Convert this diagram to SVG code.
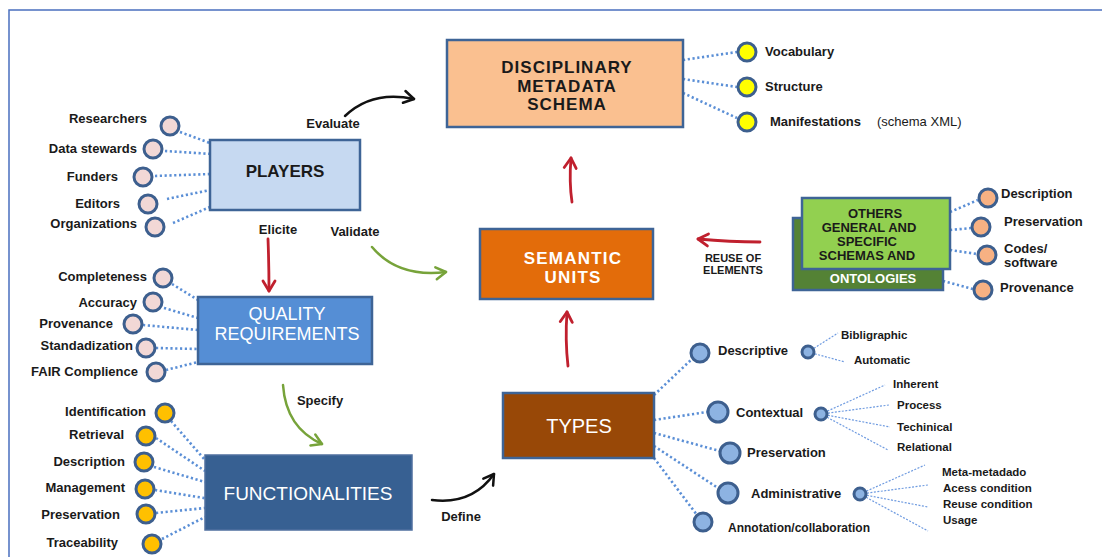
<svg xmlns="http://www.w3.org/2000/svg" width="1102" height="557" viewBox="0 0 1102 557">
<defs>
<marker id="hRed" markerUnits="userSpaceOnUse" markerWidth="16" markerHeight="16" refX="12" refY="8" orient="auto"><path d="M2,2 L12,8 L2,14" fill="none" stroke="#c0202e" stroke-width="2.8" stroke-linecap="round" stroke-linejoin="round"/></marker>
<marker id="hGreen" markerUnits="userSpaceOnUse" markerWidth="16" markerHeight="16" refX="12" refY="8" orient="auto"><path d="M2,2 L12,8 L2,14" fill="none" stroke="#77a33a" stroke-width="2.5" stroke-linecap="round" stroke-linejoin="round"/></marker>
<marker id="hBlack" markerUnits="userSpaceOnUse" markerWidth="16" markerHeight="16" refX="12" refY="8" orient="auto"><path d="M2,2 L12,8 L2,14" fill="none" stroke="#111" stroke-width="2.5" stroke-linecap="round" stroke-linejoin="round"/></marker>
</defs>
<style>
text{font-family:"Liberation Sans","DejaVu Sans",sans-serif;fill:#1a1a1a}
.lb{font-size:13px;font-weight:bold}
.sm{font-size:12px;font-weight:bold}
.title{font-size:17px;font-weight:bold;text-anchor:middle}
.wt{fill:#fff}
.box{stroke:#3e6496;stroke-width:2.5}
.dot{fill:none;stroke:#5b8fd6;stroke-width:2.6;stroke-dasharray:2.2 2.6}
.thin{fill:none;stroke:#6f9be0;stroke-width:1.2;stroke-dasharray:2 1.5}
.c{stroke:#3d5f8e;stroke-width:3}
.pink{fill:#f2d8d6}
.yel{fill:#ffff00}
.gold{fill:#ffc000}
.peach{fill:#f7b183}
.lblue{fill:#8db3e2}
.red{fill:none;stroke:#c0202e;stroke-width:2.8;stroke-linecap:round}
.green{fill:none;stroke:#77a33a;stroke-width:2.5;stroke-linecap:round}
.black{fill:none;stroke:#111;stroke-width:2.5;stroke-linecap:round}
.al{font-size:13px;font-weight:bold;text-anchor:middle}
</style>
<rect x="9" y="10" width="1100" height="560" fill="#fff" stroke="#4a6fbf" stroke-width="1.5"/>

<g id="connectors">
<path class="dot" d="M180,132 L210,143 M165,151 L212,154 M155,176 L210,174 M167,199 L210,190 M173,223 L210,207"/>
<path class="dot" d="M683,60 L737,52 M683,79 L737,87 M683,93 L737,118"/>
<path class="dot" d="M950,212 L978,200 M950,230 L972,228 M950,250 L977,254 M943,281 L973,289"/>
<path class="dot" d="M172,284 L198,300 M164,308 L198,318 M143,325 L198,330 M156,348 L198,349 M166,370 L198,362"/>
<path class="dot" d="M171,421 L205,460 M156,438 L205,471 M154,467 L205,482 M155,490 L210,499 M156,513 L205,508 M162,539 L205,517"/>
<path class="dot" d="M654,395 L692,359 M654,420 L707,412 M654,433 L720,451 M654,446 L718,488 M654,458 L697,515"/>
<path class="thin" d="M808,352 L838,333 M808,352 L845,362 M821,414 L885,385 M821,414 L889,405 M821,414 L890,427 M821,414 L888,450 M860,494 L925,465 M860,494 L928,485 M860,494 L928,507 M860,494 L928,531"/>
<path class="black" d="M345,116 Q372,90 414,99" marker-end="url(#hBlack)"/>
<path class="red" d="M268,239 Q269,265 269,291" marker-end="url(#hRed)"/>
<path class="green" d="M372,247 Q398,278 446,272" marker-end="url(#hGreen)"/>
<path class="red" d="M572,202 Q569,182 571,158" marker-end="url(#hRed)"/>
<path class="red" d="M760,242 Q730,242 698,239" marker-end="url(#hRed)"/>
<path class="red" d="M568,366 Q565,340 567,312" marker-end="url(#hRed)"/>
<path class="green" d="M283,385 Q286,428 322,444" marker-end="url(#hGreen)"/>
<path class="black" d="M432,500 Q472,505 494,474" marker-end="url(#hBlack)"/>
<text class="al" x="333" y="128">Evaluate</text>
<text class="al" x="278" y="234">Elicite</text>
<text class="al" x="355" y="236">Validate</text>
<text class="al" x="320" y="405">Specify</text>
<text class="al" x="461" y="521">Define</text>
<text class="al" x="733" y="262" style="font-size:11px">REUSE OF</text>
<text class="al" x="733" y="274" style="font-size:11px">ELEMENTS</text>
</g>

<g id="players">
<rect class="box" x="210" y="140" width="150" height="70" fill="#c6d9f1"/>
<text class="title" x="285" y="177">PLAYERS</text>
<circle class="c pink" cx="170" cy="126" r="9"/><circle class="c pink" cx="153" cy="149" r="9"/><circle class="c pink" cx="143" cy="177" r="9"/><circle class="c pink" cx="148" cy="204" r="9"/><circle class="c pink" cx="155" cy="227" r="9"/>
<text class="lb" text-anchor="end" x="147" y="123">Researchers</text>
<text class="lb" text-anchor="end" x="137" y="153">Data stewards</text>
<text class="lb" text-anchor="end" x="118" y="181">Funders</text>
<text class="lb" text-anchor="end" x="120" y="208">Editors</text>
<text class="lb" text-anchor="end" x="137" y="228">Organizations</text>
</g>

<g id="disciplinary">
<rect class="box" x="447" y="40" width="236" height="87" fill="#fac090"/>
<text class="title" x="567" y="73" style="letter-spacing:1px">DISCIPLINARY</text>
<text class="title" x="567" y="92" style="letter-spacing:1px">METADATA</text>
<text class="title" x="567" y="110" style="letter-spacing:1px">SCHEMA</text>
<circle class="c yel" cx="747" cy="52" r="9"/><circle class="c yel" cx="747" cy="87" r="9"/><circle class="c yel" cx="747" cy="122" r="9"/>
<text class="lb" x="765" y="56">Vocabulary</text>
<text class="lb" x="765" y="91">Structure</text>
<text class="lb" x="770" y="126">Manifestations</text>
<text x="877" y="126" style="font-size:13px">(schema XML)</text>
</g>

<g id="others">
<rect class="box" x="793" y="218" width="150" height="72" fill="#548235" stroke-width="2"/>
<rect class="box" x="802" y="198" width="148" height="71" fill="#92d050" stroke-width="2"/>
<text class="title" x="875" y="218" style="font-size:13px">OTHERS</text>
<text class="title" x="869" y="232" style="font-size:13px">GENERAL AND</text>
<text class="title" x="867" y="246" style="font-size:13px">SPECIFIC</text>
<text class="title" x="867" y="260" style="font-size:13px">SCHEMAS AND</text>
<text class="title wt" x="873" y="283" style="font-size:13px">ONTOLOGIES</text>
<circle class="c peach" cx="988" cy="198" r="9"/><circle class="c peach" cx="981" cy="227" r="9"/><circle class="c peach" cx="987" cy="255" r="9"/><circle class="c peach" cx="983" cy="290" r="9"/>
<text class="lb" x="1001" y="198">Description</text>
<text class="lb" x="1004" y="226">Preservation</text>
<text class="lb" x="1004" y="253">Codes/</text>
<text class="lb" x="1004" y="267">software</text>
<text class="lb" x="1000" y="292">Provenance</text>
</g>

<g id="semantic">
<rect class="box" x="480" y="229" width="173" height="70" fill="#e36c0a"/>
<text class="title wt" x="573" y="264" style="letter-spacing:1.2px">SEMANTIC</text>
<text class="title wt" x="573" y="283" style="letter-spacing:1.2px">UNITS</text>
</g>

<g id="quality">
<rect class="box" x="198" y="297" width="174" height="67" fill="#558ed5"/>
<text class="title wt" x="287" y="320" style="font-size:18px;font-weight:normal">QUALITY</text>
<text class="title wt" x="287" y="340" style="font-size:18px;font-weight:normal">REQUIREMENTS</text>
<circle class="c pink" cx="163" cy="278" r="9"/><circle class="c pink" cx="153" cy="302" r="9"/><circle class="c pink" cx="133" cy="324" r="9"/><circle class="c pink" cx="146" cy="348" r="9"/><circle class="c pink" cx="156" cy="372" r="9"/>
<text class="lb" text-anchor="end" x="147" y="281">Completeness</text>
<text class="lb" text-anchor="end" x="137" y="307">Accuracy</text>
<text class="lb" text-anchor="end" x="113" y="328">Provenance</text>
<text class="lb" text-anchor="end" x="133" y="350">Standadization</text>
<text class="lb" text-anchor="end" x="138" y="376">FAIR Complience</text>
</g>

<g id="functionalities">
<rect x="205" y="455" width="207" height="75" fill="#376092" stroke="#4f6f9f" stroke-width="1.5"/>
<text class="title wt" x="308" y="500" style="font-size:19px;font-weight:normal">FUNCTIONALITIES</text>
<circle class="c gold" cx="165" cy="413" r="9"/><circle class="c gold" cx="146" cy="436" r="9"/><circle class="c gold" cx="144" cy="462" r="9"/><circle class="c gold" cx="145" cy="489" r="9"/><circle class="c gold" cx="146" cy="514" r="9"/><circle class="c gold" cx="152" cy="544" r="9"/>
<text class="lb" text-anchor="end" x="146" y="416">Identification</text>
<text class="lb" text-anchor="end" x="124" y="439">Retrieval</text>
<text class="lb" text-anchor="end" x="125" y="466">Description</text>
<text class="lb" text-anchor="end" x="125" y="492">Management</text>
<text class="lb" text-anchor="end" x="120" y="519">Preservation</text>
<text class="lb" text-anchor="end" x="118" y="547">Traceability</text>
</g>

<g id="types">
<rect class="box" x="503" y="393" width="151" height="65" fill="#984807"/>
<text class="title wt" x="579" y="433" style="font-size:20px;font-weight:normal">TYPES</text>
<circle class="c lblue" cx="700" cy="353" r="9"/><circle class="c lblue" cx="718" cy="412" r="10"/><circle class="c lblue" cx="730" cy="453" r="10"/><circle class="c lblue" cx="728" cy="493" r="10"/><circle class="c lblue" cx="703" cy="522" r="9"/>
<circle class="c lblue" cx="808" cy="352" r="6" stroke-width="2.5"/><circle class="c lblue" cx="821" cy="414" r="6" stroke-width="2.5"/><circle class="c lblue" cx="860" cy="494" r="6" stroke-width="2.5"/>
<text class="lb" x="718" y="355">Descriptive</text>
<text class="lb" x="736" y="417">Contextual</text>
<text class="lb" x="747" y="457">Preservation</text>
<text class="lb" x="751" y="498">Administrative</text>
<text class="sm" x="728" y="532">Annotation/collaboration</text>
<text class="sm" x="841" y="339" style="font-size:11.5px">Bibligraphic</text>
<text class="sm" x="854" y="364" style="font-size:11.5px">Automatic</text>
<text class="sm" x="893" y="388" style="font-size:11.5px">Inherent</text>
<text class="sm" x="897" y="409" style="font-size:11.5px">Process</text>
<text class="sm" x="897" y="431" style="font-size:11.5px">Techinical</text>
<text class="sm" x="897" y="451" style="font-size:11.5px">Relational</text>
<text class="sm" x="942" y="476" style="font-size:11.5px">Meta-metadado</text>
<text class="sm" x="943" y="492" style="font-size:11.5px">Acess condition</text>
<text class="sm" x="943" y="508" style="font-size:11.5px">Reuse condition</text>
<text class="sm" x="943" y="524" style="font-size:11.5px">Usage</text>
</g>
</svg>
